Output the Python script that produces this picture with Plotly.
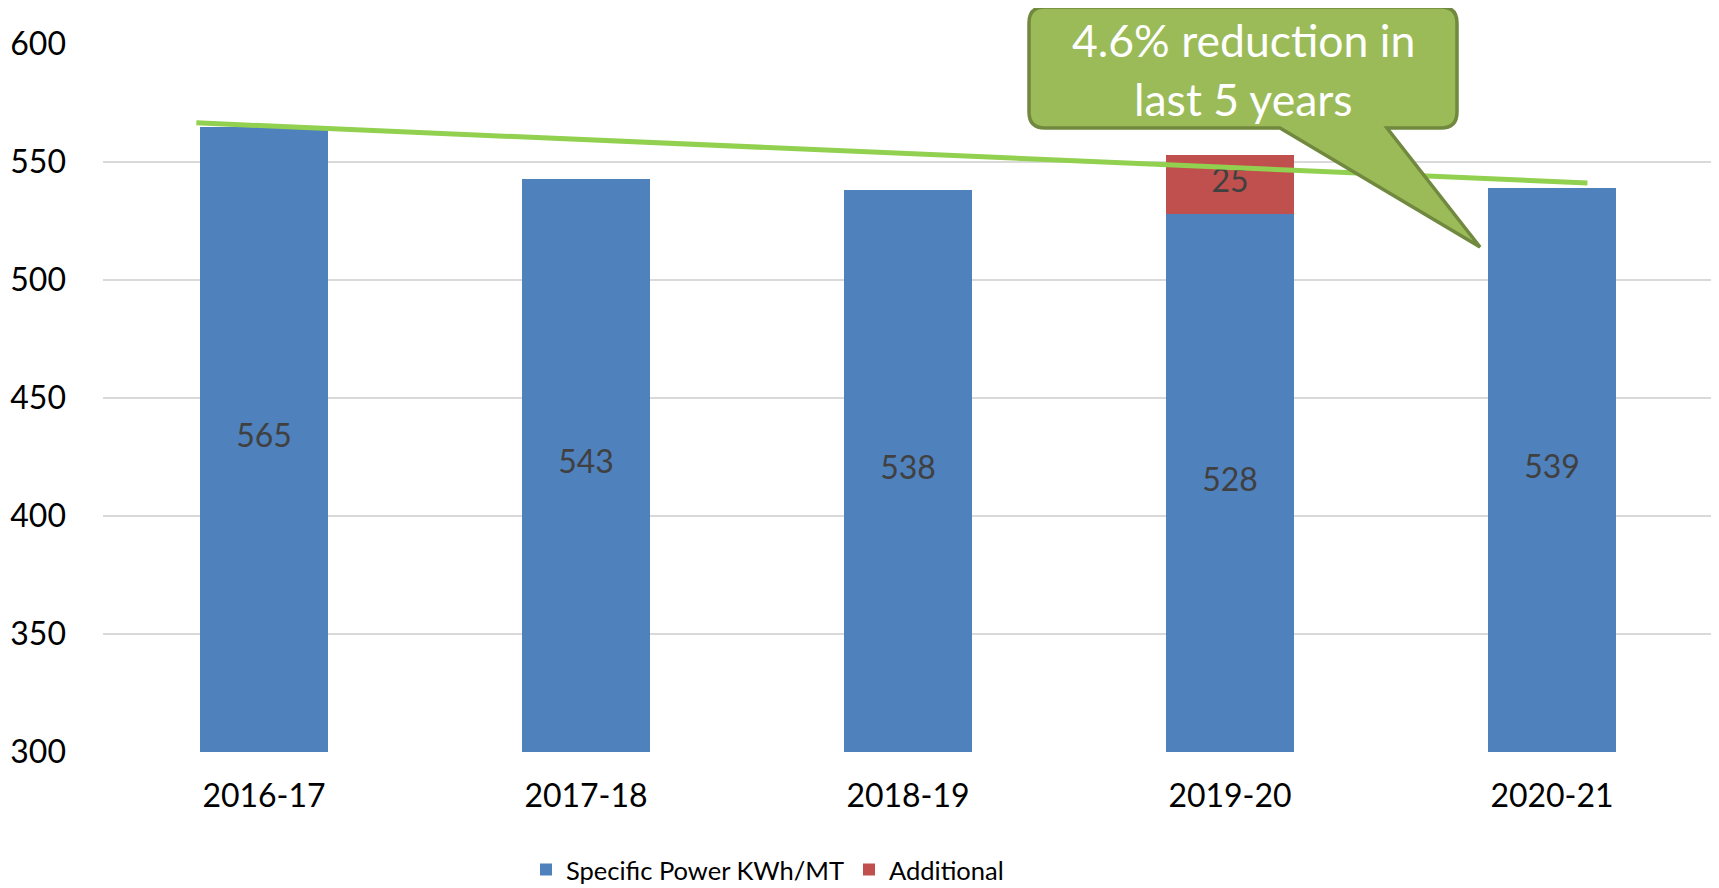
import plotly.graph_objects as go

categories = ["2016-17", "2017-18", "2018-19", "2019-20", "2020-21"]
specific_power = [565, 543, 538, 528, 539]
additional = [0, 0, 0, 25, 0]
trend_x = [-0.21, 4.11]
trend_y = [566.6, 541.1]
y_min, y_max = 300, 600
y_ticks = [300, 350, 400, 450, 500, 550, 600]

FONT = "Lato"
BLUE = "#4F81BD"
RED = "#C0504D"

fig = go.Figure()
fig.add_trace(go.Bar(
    x=categories, y=specific_power, name="Specific Power KWh/MT",
    marker=dict(color=BLUE, line=dict(width=0)), width=0.4,
))
fig.add_trace(go.Bar(
    x=categories, y=additional, name="Additional",
    marker=dict(color=RED, line=dict(width=0)), width=0.4,
))

# data labels, centred in the visible part of each segment
lab_x, lab_y, lab_t = [], [], []
for c, v, a in zip(categories, specific_power, additional):
    lab_x.append(c); lab_y.append((max(y_min, 0) + v) / 2); lab_t.append(str(v))
    if a:
        lab_x.append(c); lab_y.append(v + a / 2); lab_t.append(str(a))
fig.add_trace(go.Scatter(
    x=lab_x, y=lab_y, text=lab_t, mode="text", showlegend=False,
    textfont=dict(family=FONT, size=32, color="#404040"), hoverinfo="skip",
))

# trend line (numeric category positions on overlaid axis)
fig.add_trace(go.Scatter(
    x=trend_x, y=trend_y, mode="lines", xaxis="x2", showlegend=False,
    line=dict(color="#92D050", width=5), hoverinfo="skip",
))

# callout shape in paper coords (page pixel positions -> paper fraction)
W, H = 1610.0, 708.0
def px(x): return (x - 103.0) / W
def py(y): return (752.0 - y) / H
x0, x1, y0, y1 = 1029, 1457, 7, 128
r = 16
tip = (1480, 247)
b0, b1 = 1280, 1387
path = (
    f"M {px(x0 + r)},{py(y0)} "
    f"L {px(x1 - r)},{py(y0)} Q {px(x1)},{py(y0)} {px(x1)},{py(y0 + r)} "
    f"L {px(x1)},{py(y1 - r)} Q {px(x1)},{py(y1)} {px(x1 - r)},{py(y1)} "
    f"L {px(b1)},{py(y1)} L {px(tip[0])},{py(tip[1])} L {px(b0)},{py(y1)} "
    f"L {px(x0 + r)},{py(y1)} Q {px(x0)},{py(y1)} {px(x0)},{py(y1 - r)} "
    f"L {px(x0)},{py(y0 + r)} Q {px(x0)},{py(y0)} {px(x0 + r)},{py(y0)} Z"
)
fig.add_shape(type="path", xref="paper", yref="paper", path=path,
              fillcolor="#9BBB59", line=dict(color="#71893F", width=3.5), layer="above")
fig.add_annotation(xref="paper", yref="paper", x=px(1243), y=py(40), text="4.6% reduction in",
                   showarrow=False, font=dict(family=FONT, size=44.5, color="white"),
                   xanchor="center", yanchor="middle")
fig.add_annotation(xref="paper", yref="paper", x=px(1243), y=py(98), text="last 5 years",
                   showarrow=False, font=dict(family=FONT, size=44.5, color="white"),
                   xanchor="center", yanchor="middle")

fig.update_layout(
    width=1719, height=888,
    margin=dict(l=95, r=14, t=36, b=144, autoexpand=False),
    paper_bgcolor="white", plot_bgcolor="white",
    barmode="stack",
    font=dict(family=FONT, size=32, color="black"),
    showlegend=True,
    legend=dict(orientation="h", x=px(526), xanchor="left", y=py(870), yanchor="middle",
                font=dict(family=FONT, size=25.5, color="black"),
                traceorder="normal",
                entrywidth=278, entrywidthmode="pixels", bgcolor="rgba(0,0,0,0)"),
    xaxis=dict(type="category", categoryorder="array", categoryarray=categories,
               showgrid=False, showline=False, ticks="", ticklabelstandoff=22,
               automargin=False,
               tickfont=dict(family=FONT, size=32, color="black"), fixedrange=True),
    xaxis2=dict(overlaying="x", range=[-0.5, 4.5], visible=False, fixedrange=True,
                automargin=False),
    yaxis=dict(range=[y_min, y_max], tickvals=y_ticks, showgrid=True,
               gridcolor="#D9D9D9", gridwidth=1.5, zeroline=False, showline=False,
               ticks="", ticklabelstandoff=36, automargin=False,
               tickfont=dict(family=FONT, size=32, color="black"), fixedrange=True),
)

fig.write_html("out.html")
